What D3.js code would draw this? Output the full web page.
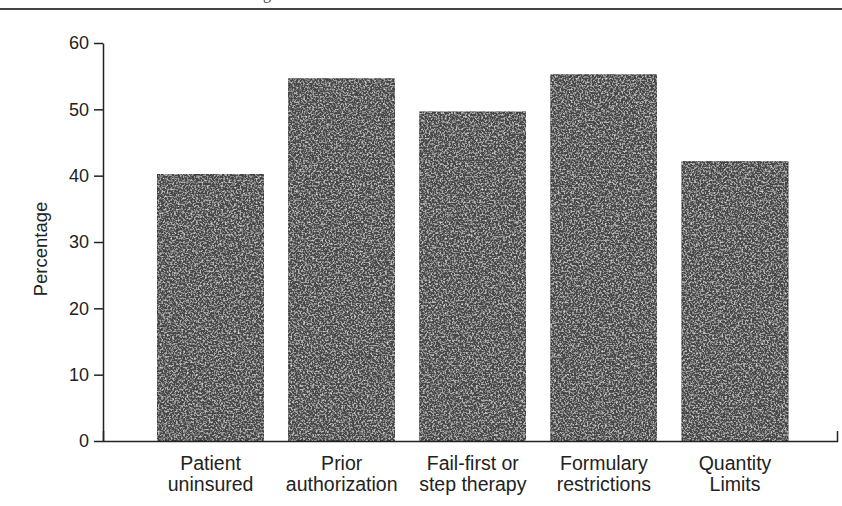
<!DOCTYPE html>
<html>
<head>
<meta charset="utf-8">
<script src="https://cdn.jsdelivr.net/npm/d3@7"></script>
<style>
  body { margin: 0; background: #fff; }
  svg { display: block; }
  .axis text { font-family: "Liberation Sans", Arial, sans-serif; fill: #222; }
  .axis path, .axis line { stroke: #222; stroke-width: 1.5; }
</style>
</head>
<body>
<div id="chart"></div>
<script>
// data
var categories = ["Patient uninsured", "Prior authorization", "Fail-first or step therapy", "Formulary restrictions", "Quantity Limits"];
var labelLines = [["Patient", "uninsured"], ["Prior", "authorization"], ["Fail-first or", "step therapy"], ["Formulary", "restrictions"], ["Quantity", "Limits"]];
var percentages = [40.2, 54.6, 49.6, 55.2, 42.1];
var yTicks = [0, 10, 20, 30, 40, 50, 60];

var svgWidth = 842;
var svgHeight = 506;

var svg = d3.select("#chart")
    .append("svg")
    .attr("width", svgWidth)
    .attr("height", svgHeight);

// grainy print texture for the bars
var defs = svg.append("defs");
var grain = defs.append("filter")
    .attr("id", "grain")
    .attr("x", 0).attr("y", 0).attr("width", "100%").attr("height", "100%");
grain.append("feTurbulence")
    .attr("type", "fractalNoise")
    .attr("baseFrequency", 0.55)
    .attr("numOctaves", 3)
    .attr("seed", 7)
    .attr("result", "noise");
grain.append("feColorMatrix")
    .attr("in", "noise")
    .attr("type", "matrix")
    .attr("values", "0 0 0 0 0.72  0 0 0 0 0.72  0 0 0 0 0.72  2.4 0 0 0 -1.1")
    .attr("result", "speck");
grain.append("feComposite")
    .attr("in", "speck").attr("in2", "SourceGraphic")
    .attr("operator", "in").attr("result", "speckIn");
var merge = grain.append("feMerge");
merge.append("feMergeNode").attr("in", "SourceGraphic");
merge.append("feMergeNode").attr("in", "speckIn");

// rule at the top of the page, with the cut-off caption descender
svg.append("line")
    .attr("x1", 0).attr("x2", svgWidth)
    .attr("y1", 9).attr("y2", 9)
    .attr("stroke", "#444")
    .attr("stroke-width", 1.8);
svg.append("text")
    .attr("x", 263).attr("y", -1)
    .attr("font-family", "Liberation Serif, serif")
    .attr("font-size", 16)
    .attr("fill", "#444")
    .text("g");

// scales
var x = d3.scaleBand()
    .domain(categories)
    .range([103, 837])
    .paddingInner(0.191)
    .paddingOuter(0.395)
    .align(0.527);

var y = d3.scaleLinear()
    .domain([0, 60])
    .range([441, 43]);

// bars
svg.append("g")
    .selectAll("rect")
    .data(categories)
    .enter()
    .append("rect")
    .attr("x", d => x(d))
    .attr("y", (d, i) => y(percentages[i]))
    .attr("width", x.bandwidth())
    .attr("height", (d, i) => y(0) - y(percentages[i]))
    .attr("fill", "#474747")
    .attr("stroke", "#333")
    .attr("stroke-width", 1)
    .attr("filter", "url(#grain)");

// y axis
var yAxis = svg.append("g")
    .attr("class", "axis")
    .attr("transform", "translate(103,0)")
    .call(d3.axisLeft(y).tickValues(yTicks).tickSize(9).tickSizeOuter(0).tickPadding(5));
yAxis.selectAll("text").attr("font-size", 18);

// x axis
var xAxis = svg.append("g")
    .attr("class", "axis")
    .attr("transform", `translate(0, ${y(0)})`)
    .call(d3.axisBottom(x).tickSizeInner(0).tickSizeOuter(-10).tickFormat(""));

xAxis.selectAll(".tick").append("text")
    .attr("font-size", 19.5)
    .attr("text-anchor", "middle")
    .attr("y", 29)
    .selectAll("tspan")
    .data((d, i) => labelLines[categories.indexOf(d)])
    .enter()
    .append("tspan")
    .attr("x", 0)
    .attr("dy", (d, i) => i === 0 ? 0 : 21)
    .text(d => d);

// y axis label
svg.append("text")
    .attr("transform", "rotate(-90)")
    .attr("x", -249)
    .attr("y", 47)
    .attr("text-anchor", "middle")
    .attr("font-family", "Liberation Sans, Arial, sans-serif")
    .attr("font-size", 18.5)
    .attr("fill", "#222")
    .text("Percentage");
</script>
</body>
</html>
